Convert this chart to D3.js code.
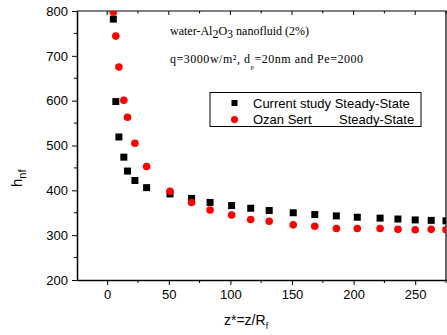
<!DOCTYPE html>
<html>
<head>
<meta charset="utf-8">
<script src="https://cdn.jsdelivr.net/npm/d3@7"></script>
<style>
  body { margin: 0; background: #fff; }
  svg { display: block; }
</style>
</head>
<body>
<div id="chart"></div>
<script>
// z* positions, shared by both series
const zStar = [5, 7, 9.5, 13.5, 16.5, 22.5, 32, 51, 68.5, 83.5, 101, 116.5, 131.5, 151, 168.5, 186, 203, 221.5, 236, 250, 263, 275];
const currentStudy = [782, 598, 519, 474, 443, 422, 406, 392, 382, 373, 366, 360, 355, 350, 346, 343, 340, 338, 336, 334, 333, 332];
const ozanSert = [798, 744, 675, 601, 563, 505, 453, 398, 373, 356, 345, 335, 331, 323, 320, 315, 315, 315, 313, 312, 313, 312];
const xTicks = [0, 50, 100, 150, 200, 250];
const yTicks = [200, 300, 400, 500, 600, 700, 800];

const width = 447, height = 335;
const margin = {top: 11, right: 1, bottom: 55, left: 77};

const svg = d3.select("#chart").append("svg")
    .attr("width", width)
    .attr("height", height)
    .attr("font-family", "'Liberation Sans', Arial, sans-serif");

const x = d3.scaleLinear().domain([-24.5, 275]).range([margin.left, width - margin.right]);
const y = d3.scaleLinear().domain([200, 800]).range([height - margin.bottom, margin.top]);

const x0 = margin.left, x1 = width - margin.right;
const y0 = height - margin.bottom, y1 = margin.top;

svg.append("clipPath").attr("id", "plot")
    .append("rect")
    .attr("x", x0).attr("y", y1)
    .attr("width", x1 - x0).attr("height", y0 - y1);

// frame (top + right)
svg.append("path")
    .attr("d", `M${x0},${y1}H${x1}V${y0}`)
    .attr("fill", "none")
    .attr("stroke", "#000")
    .attr("stroke-width", 1.2);

// top mirror ticks, pointing inward
const topTicks = d3.range(0, 276, 25);
svg.append("g").selectAll("line")
    .data(topTicks)
    .join("line")
    .attr("x1", d => x(d)).attr("x2", d => x(d))
    .attr("y1", y1).attr("y2", d => y1 + (d % 50 === 0 ? 4 : 2.5))
    .attr("stroke", "#000");

// bottom axis
const xAxis = svg.append("g")
    .attr("transform", `translate(0,${y0})`)
    .call(d3.axisBottom(x).tickValues(xTicks).tickSize(5).tickSizeOuter(0).tickPadding(5));
xAxis.select(".domain").attr("stroke-width", 1.5);
xAxis.selectAll("text").attr("font-size", 13).attr("font-family", "'Liberation Sans', Arial, sans-serif");
svg.append("g").selectAll("line")
    .data(d3.range(25, 276, 50))
    .join("line")
    .attr("x1", d => x(d)).attr("x2", d => x(d))
    .attr("y1", y0).attr("y2", y0 + 3)
    .attr("stroke", "#000");

// left axis
const yAxis = svg.append("g")
    .attr("transform", `translate(${x0},0)`)
    .call(d3.axisLeft(y).tickValues(yTicks).tickSize(5).tickSizeOuter(0).tickPadding(4));
yAxis.select(".domain").attr("stroke-width", 1.5);
yAxis.selectAll("text").attr("font-size", 13).attr("font-family", "'Liberation Sans', Arial, sans-serif");
svg.append("g").selectAll("line")
    .data(d3.range(250, 800, 100))
    .join("line")
    .attr("x1", x0).attr("x2", x0 - 3)
    .attr("y1", d => y(d)).attr("y2", d => y(d))
    .attr("stroke", "#000");

// axis titles
const xTitle = svg.append("text")
    .attr("x", 224).attr("y", 325)
    .attr("font-size", 14);
xTitle.append("tspan").text("z*=z/R");
xTitle.append("tspan").attr("font-size", 9).attr("dy", 4).text("f");

const yTitle = svg.append("text")
    .attr("transform", "translate(22,187) rotate(-90)")
    .attr("font-size", 15);
yTitle.append("tspan").text("h");
yTitle.append("tspan").attr("font-size", 11).attr("dy", 4).text("nf");

// data points
const pts = svg.append("g").attr("clip-path", "url(#plot)");

pts.selectAll("rect")
    .data(zStar)
    .join("rect")
    .attr("x", (d, i) => x(d) - 3.5)
    .attr("y", (d, i) => y(currentStudy[i]) - 3.5)
    .attr("width", 7).attr("height", 7)
    .attr("fill", "#000");

pts.selectAll("circle")
    .data(zStar)
    .join("circle")
    .attr("cx", d => x(d))
    .attr("cy", (d, i) => y(ozanSert[i]))
    .attr("r", 3.8)
    .attr("fill", "#ff0000");

// annotation
const note = svg.append("g")
    .attr("font-family", "'Liberation Serif', 'Times New Roman', serif")
    .attr("font-size", 12);
const n1 = note.append("text").attr("x", 170).attr("y", 35);
n1.append("tspan").text("water-Al");
n1.append("tspan").attr("dy", 3).text("2");
n1.append("tspan").attr("dy", -3).text("O");
n1.append("tspan").attr("dy", 3).text("3");
n1.append("tspan").attr("dy", -3).text(" nanofluid (2%)");
const n2 = note.append("text").attr("x", 170).attr("y", 63)
    .attr("textLength", 193).attr("lengthAdjust", "spacing");
n2.append("tspan").text("q=3000w/m², d");
n2.append("tspan").attr("font-size", 7).attr("dy", 6).text("p");
n2.append("tspan").attr("dy", -6).text("=20nm and Pe=2000");

// legend
const legend = svg.append("g");
legend.append("rect")
    .attr("x", 210).attr("y", 92.5)
    .attr("width", 211).attr("height", 34)
    .attr("fill", "#fff")
    .attr("stroke", "#000");
legend.append("rect")
    .attr("x", 231.5).attr("y", 100)
    .attr("width", 6).attr("height", 6)
    .attr("fill", "#000");
legend.append("circle")
    .attr("cx", 234.5).attr("cy", 119.5)
    .attr("r", 3.5)
    .attr("fill", "#ff0000");
legend.append("text")
    .attr("x", 253).attr("y", 107.5)
    .attr("font-size", 13)
    .text("Current study Steady-State");
legend.append("text")
    .attr("x", 253).attr("y", 123.5)
    .attr("font-size", 13)
    .text("Ozan Sert");
legend.append("text")
    .attr("x", 339).attr("y", 123.5)
    .attr("font-size", 13)
    .text("Steady-State");
</script>
</body>
</html>
